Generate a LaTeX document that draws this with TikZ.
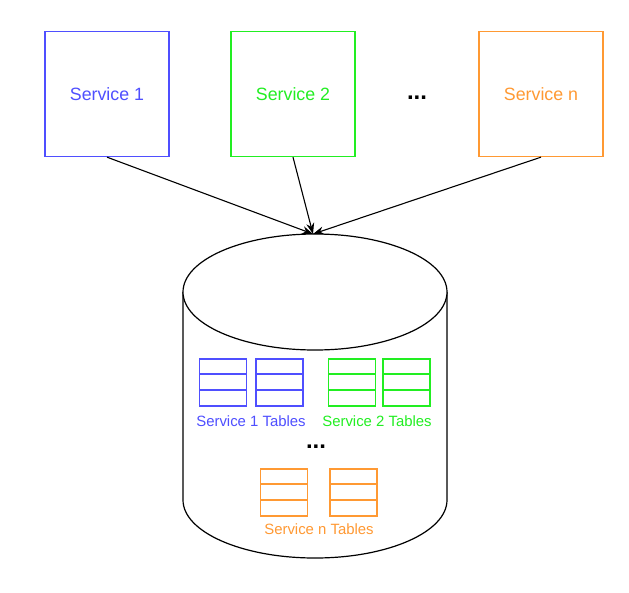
\documentclass[tikz,border=0pt]{standalone}
\usepackage{fontspec}
\setmainfont{Liberation Sans}
\usetikzlibrary{arrows.meta}
\definecolor{sblue}{HTML}{4F4FFF}
\definecolor{sgreen}{HTML}{22EE22}
\definecolor{sorange}{HTML}{FF9933}
\newcommand{\dbtable}[3]{%
  \draw[#3, line width=1.3pt] (#1,#2) rectangle ++(47,47);
  \draw[#3, line width=1.3pt] (#1,#2+15) -- ++(47,0);
  \draw[#3, line width=1.3pt] (#1,#2+31) -- ++(47,0);
}
\begin{document}
\begin{tikzpicture}[x=1pt,y=-1pt,
  svc/.style={draw=#1, text=#1, line width=1.3pt, minimum width=124pt, minimum height=125pt, inner sep=0pt, font=\fontsize{17.8}{20}\selectfont},
  lbl/.style={text=#1, font=\fontsize{14.9}{17}\selectfont, inner sep=0pt},
  dots/.style={font=\fontsize{24}{26}\selectfont\bfseries, inner sep=0pt},
  conn/.style={-{Stealth[length=11pt,width=8pt]}, line width=1.1pt},
  db/.style={line width=1.2pt, fill=white}
]
\useasboundingbox (0,0) rectangle (629,592);
\node[svc=sblue] (s1) at (107,94) {Service 1};
\node[svc=sgreen] (s2) at (293,94) {Service 2};
\node[svc=sorange] (sn) at (541,94) {Service n};
\node[dots] (d1) at (417,98) {...};
% cylinder
\draw[db] (183,292) -- (183,500) arc[start angle=180, end angle=360, x radius=132pt, y radius=58pt] -- (447,292);
\draw[db] (315,292) ellipse[x radius=132pt, y radius=58pt];
\coordinate (dbtop) at (313,234);
\draw[conn] (s1.south) -- (dbtop);
\draw[conn] (s2.south) -- (dbtop);
\draw[conn] (sn.south) -- (dbtop);
% tables
\dbtable{199.5}{359}{sblue}
\dbtable{256}{359}{sblue}
\dbtable{328.5}{359}{sgreen}
\dbtable{383}{359}{sgreen}
\dbtable{260.5}{469}{sorange}
\dbtable{330}{469}{sorange}
\node[lbl=sblue] (t1) at (251,421) {Service 1 Tables};
\node[lbl=sgreen] (t2) at (377,421) {Service 2 Tables};
\node[lbl=sorange] (tn) at (319,529) {Service n Tables};
\node[dots] (d2) at (316,447) {...};
\end{tikzpicture}
\end{document}
